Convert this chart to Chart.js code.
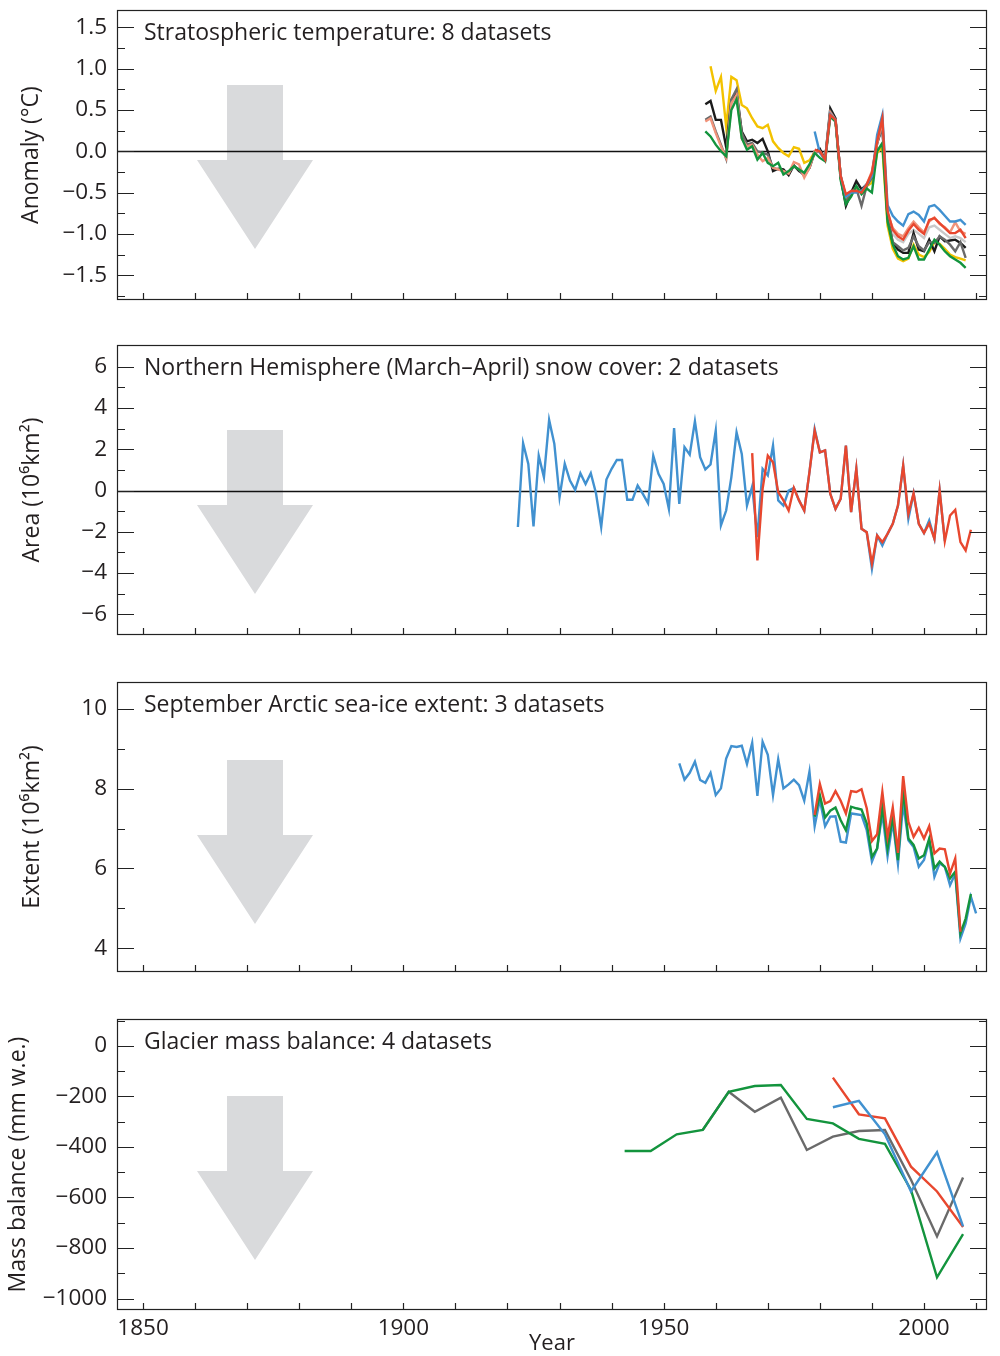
<!DOCTYPE html>
<html>
<head>
<meta charset="utf-8">
<script src="https://cdn.jsdelivr.net/npm/chart.js@4.4.1/dist/chart.umd.min.js"></script>
<style>
  body { margin: 0; background: #fff; }
  #wrap { position: relative; width: 1000px; height: 1356px; }
  canvas { position: absolute; left: 0; }
</style>
</head>
<body>
<div id="wrap">
  <canvas id="strat" width="1000" height="330" style="top:0px"></canvas>
  <canvas id="snow" width="1000" height="335" style="top:335px"></canvas>
  <canvas id="ice" width="1000" height="330" style="top:672px"></canvas>
  <canvas id="glacier" width="1000" height="347" style="top:1009px"></canvas>
</div>
<script>
/* --------------- Stratospheric temperature (anomaly, °C) --------------- */
const stratYears = [1958, 1959, 1960, 1961, 1962, 1963, 1964, 1965, 1966, 1967,
  1968, 1969, 1970, 1971, 1972, 1973, 1974, 1975, 1976, 1977,
  1978, 1979, 1980, 1981, 1982, 1983, 1984, 1985, 1986, 1987,
  1988, 1989, 1990, 1991, 1992, 1993, 1994, 1995, 1996, 1997,
  1998, 1999, 2000, 2001, 2002, 2003, 2004, 2005, 2006, 2007, 2008];
const stratBlack = [0.57, 0.61, 0.38, 0.38, 0.05, 0.62, 0.70, 0.24, 0.12, 0.14,
  0.10, 0.15, 0.00, -0.24, -0.21, -0.22, -0.29, -0.17, -0.24, -0.28,
  -0.20, 0.00, 0.03, -0.10, 0.52, 0.40, -0.32, -0.66, -0.50, -0.36,
  -0.46, -0.40, -0.30, 0.10, 0.30, -0.80, -1.11, -1.19, -1.23, -1.23,
  -0.99, -1.19, -1.21, -1.07, -1.21, -1.03, -1.09, -1.08, -1.07, -1.11, -1.17];
const stratYellow = [null, 1.03, 0.73, 0.90, 0.30, 0.90, 0.86, 0.56, 0.52, 0.40,
  0.30, 0.28, 0.32, 0.12, 0.04, -0.02, -0.06, 0.05, 0.03, -0.14,
  -0.11, -0.01, 0.00, -0.10, 0.45, 0.38, -0.32, -0.58, -0.52, -0.45,
  -0.50, -0.42, -0.38, -0.02, 0.05, -0.90, -1.18, -1.30, -1.33, -1.30,
  -1.13, -1.25, -1.28, -1.22, -1.10, -1.12, -1.18, -1.25, -1.28, -1.30, -1.32];
const stratGray = [0.38, 0.42, 0.24, 0.08, -0.09, 0.63, 0.75, 0.22, 0.08, 0.10,
  0.00, -0.02, -0.04, -0.20, -0.22, -0.24, -0.26, -0.18, -0.22, -0.30,
  -0.20, -0.02, 0.00, -0.10, 0.48, 0.38, -0.30, -0.62, -0.50, -0.45,
  -0.66, -0.42, -0.32, 0.10, 0.30, -0.80, -1.10, -1.15, -1.20, -1.17,
  -1.03, -1.15, -1.20, -1.10, -1.11, -1.03, -1.07, -1.13, -1.21, -1.10, -1.29];
const stratSalmon = [0.36, 0.40, 0.22, 0.06, -0.08, 0.58, 0.68, 0.15, 0.06, 0.08,
  -0.04, -0.12, -0.08, -0.20, -0.22, -0.24, -0.27, -0.13, -0.16, -0.32,
  -0.20, 0.00, 0.00, -0.10, 0.47, 0.38, -0.30, -0.55, -0.50, -0.44,
  -0.50, -0.40, -0.24, 0.10, 0.36, -0.75, -0.93, -1.00, -1.03, -0.93,
  -0.85, -0.92, -0.98, -0.85, -0.80, -0.88, -0.92, -0.98, -0.86, -0.97, -1.00];
const stratGreen = [0.24, 0.18, 0.08, 0.00, -0.06, 0.50, 0.63, 0.16, 0.02, 0.06,
  -0.10, -0.02, -0.14, -0.18, -0.14, -0.28, -0.24, -0.18, -0.22, -0.26,
  -0.16, -0.02, -0.08, -0.12, 0.42, 0.36, -0.35, -0.64, -0.55, -0.42,
  -0.52, -0.45, -0.50, 0.00, 0.10, -0.85, -1.13, -1.27, -1.31, -1.29,
  -1.15, -1.31, -1.31, -1.19, -1.07, -1.13, -1.21, -1.27, -1.31, -1.35, -1.41];
// satellite records start in 1979
const satYears = [1979, 1980, 1981, 1982, 1983, 1984, 1985, 1986, 1987,
  1988, 1989, 1990, 1991, 1992, 1993, 1994, 1995, 1996, 1997,
  1998, 1999, 2000, 2001, 2002, 2003, 2004, 2005, 2006, 2007, 2008];
const satBlue = [0.24, -0.02, -0.10, 0.45, 0.38, -0.30, -0.55, -0.50, -0.50,
  -0.48, -0.40, -0.30, 0.20, 0.44, -0.65, -0.78, -0.85, -0.90, -0.76,
  -0.73, -0.77, -0.85, -0.67, -0.65, -0.71, -0.78, -0.85, -0.85, -0.83, -0.89];
const satRed = [0.02, 0.00, -0.10, 0.44, 0.38, -0.30, -0.52, -0.48, -0.48,
  -0.50, -0.40, -0.26, 0.12, 0.40, -0.72, -0.95, -1.03, -1.07, -0.96,
  -0.88, -0.95, -1.00, -0.83, -0.81, -0.87, -0.93, -0.99, -0.99, -0.95, -1.05];
const satLightGray = [0.00, 0.00, -0.10, 0.46, 0.38, -0.30, -0.55, -0.50, -0.46,
  -0.50, -0.40, -0.30, 0.12, 0.35, -0.78, -1.00, -1.07, -1.10, -1.00,
  -0.95, -1.00, -1.05, -0.92, -0.90, -0.95, -1.00, -1.05, -1.03, -1.05, -1.10];

/* --------------- NH March-April snow cover (10^6 km2) --------------- */
const snowBlueYears = [1922, 1923, 1924, 1925, 1926, 1927, 1928, 1929, 1930, 1931,
  1932, 1933, 1934, 1935, 1936, 1937, 1938, 1939, 1940, 1941,
  1942, 1943, 1944, 1945, 1946, 1947, 1948, 1949, 1950, 1951,
  1952, 1953, 1954, 1955, 1956, 1957, 1958, 1959, 1960, 1961,
  1962, 1963, 1964, 1965, 1966, 1967, 1968, 1969, 1970, 1971,
  1972, 1973, 1974, 1975, 1976, 1977, 1978, 1979, 1980, 1981,
  1982, 1983, 1984, 1985, 1986, 1987, 1988, 1989, 1990, 1991,
  1992, 1993, 1994, 1995, 1996, 1997, 1998, 1999, 2000, 2001,
  2002, 2003, 2004];
const snowBlue = [-1.77, 2.29, 1.29, -1.74, 1.69, 0.65, 3.42, 2.26, -0.32, 1.29,
  0.48, 0.03, 0.84, 0.32, 0.84, -0.13, -1.77, 0.53, 1.05, 1.48,
  1.48, -0.45, -0.45, 0.24, -0.16, -0.61, 1.69, 0.81, 0.32, -0.89,
  3.03, -0.65, 2.10, 1.74, 3.35, 1.61, 1.02, 1.26, 2.90, -1.69,
  -0.97, 0.65, 2.82, 1.77, -0.73, 0.19, -2.26, 1.05, 0.73, 2.18,
  -0.48, -0.73, 0.00, 0.13, -0.48, -0.97, 0.89, 2.98, 1.85, 1.94,
  -0.16, -0.89, -0.40, 2.18, -1.05, 1.05, -1.85, -2.02, -3.79, -2.18,
  -2.66, -2.10, -1.61, -0.73, 1.21, -1.37, -0.13, -1.61, -2.06, -1.45,
  -2.34, 0.00, -2.45];
const snowRedYears = [1967, 1968, 1969, 1970, 1971, 1972, 1973, 1974, 1975, 1976,
  1977, 1978, 1979, 1980, 1981, 1982, 1983, 1984, 1985, 1986,
  1987, 1988, 1989, 1990, 1991, 1992, 1993, 1994, 1995, 1996,
  1997, 1998, 1999, 2000, 2001, 2002, 2003, 2004, 2005, 2006,
  2007, 2008, 2009];
const snowRed = [1.81, -3.39, 0.08, 1.69, 1.37, -0.08, -0.48, -0.97, 0.13, -0.48,
  -0.97, 0.89, 2.90, 1.85, 1.94, -0.16, -0.89, -0.40, 2.18, -1.05,
  1.05, -1.85, -2.02, -3.55, -2.18, -2.50, -2.10, -1.61, -0.73, 1.21,
  -1.13, -0.13, -1.61, -2.06, -1.60, -2.34, 0.00, -2.45, -1.21, -0.94,
  -2.50, -2.90, -1.90];

/* --------------- September Arctic sea-ice extent (10^6 km2) --------------- */
const iceBlueYears = [1953, 1954, 1955, 1956, 1957, 1958, 1959, 1960, 1961, 1962,
  1963, 1964, 1965, 1966, 1967, 1968, 1969, 1970, 1971, 1972,
  1973, 1974, 1975, 1976, 1977, 1978, 1979, 1980, 1981, 1982,
  1983, 1984, 1985, 1986, 1987, 1988, 1989, 1990, 1991, 1992,
  1993, 1994, 1995, 1996, 1997, 1998, 1999, 2000, 2001, 2002,
  2003, 2004, 2005, 2006, 2007, 2008, 2009, 2010];
const iceBlue = [8.64, 8.23, 8.40, 8.68, 8.22, 8.15, 8.40, 7.84, 8.01, 8.76,
  9.07, 9.05, 9.08, 8.62, 9.15, 7.82, 9.18, 8.85, 7.84, 8.74,
  8.01, 8.11, 8.23, 8.09, 7.70, 8.43, 7.06, 7.73, 7.06, 7.30,
  7.31, 6.67, 6.65, 7.38, 7.36, 7.34, 6.96, 6.17, 6.50, 7.38,
  6.31, 7.17, 6.11, 7.63, 6.71, 6.54, 6.04, 6.21, 6.71, 5.79,
  6.13, 6.04, 5.58, 5.87, 4.24, 4.62, 5.29, 4.87];
const iceRedYears = [1979, 1980, 1981, 1982, 1983, 1984, 1985, 1986, 1987, 1988,
  1989, 1990, 1991, 1992, 1993, 1994, 1995, 1996, 1997, 1998,
  1999, 2000, 2001, 2002, 2003, 2004, 2005, 2006, 2007];
const iceRed = [7.34, 8.12, 7.63, 7.69, 7.94, 7.70, 7.38, 7.94, 7.92, 7.99,
  7.51, 6.69, 6.86, 7.92, 6.79, 7.53, 6.39, 8.32, 7.17, 6.79,
  7.02, 6.75, 7.06, 6.38, 6.50, 6.48, 5.87, 6.25, 4.41];
const iceGreenYears = [1979, 1980, 1981, 1982, 1983, 1984, 1985, 1986, 1987, 1988,
  1989, 1990, 1991, 1992, 1993, 1994, 1995, 1996, 1997, 1998,
  1999, 2000, 2001, 2002, 2003, 2004, 2005, 2006, 2007, 2008, 2009];
const iceGreen = [7.30, 7.84, 7.28, 7.45, 7.53, 7.21, 6.96, 7.55, 7.51, 7.48,
  7.13, 6.29, 6.50, 7.55, 6.50, 7.30, 6.21, 7.97, 6.75, 6.59,
  6.25, 6.33, 6.75, 6.00, 6.17, 6.04, 5.75, 5.92, 4.37, 4.74, 5.36];

/* --------------- Glacier mass balance (mm w.e., pentads) --------------- */
const glacGreenYears = [1942.5, 1947.5, 1952.5, 1957.5, 1962.5, 1967.5, 1972.5,
  1977.5, 1982.5, 1987.5, 1992.5, 1997.5, 2002.5, 2007.5];
const glacGreen = [-416, -416, -350, -333, -182, -159, -155, -289, -307, -368, -388, -570, -916, -745];
const glacGrayYears = [1957.5, 1962.5, 1967.5, 1972.5, 1977.5, 1982.5, 1987.5, 1992.5, 1997.5, 2002.5, 2007.5];
const glacGray = [-333, -182, -261, -205, -412, -359, -337, -333, -530, -754, -521];
const glacRedYears = [1982.5, 1987.5, 1992.5, 1997.5, 2002.5, 2007.5];
const glacRed = [-126, -271, -287, -478, -576, -717];
const glacBlueYears = [1982.5, 1987.5, 1992.5, 1997.5, 2002.5, 2007.5];
const glacBlue = [-243, -218, -350, -576, -421, -714];

/* --------------- Axis ticks --------------- */
const yearTicks = [1850, 1900, 1950, 2000];
const stratTicks = [-1.5, -1.0, -0.5, 0.0, 0.5, 1.0, 1.5];
const snowTicks = [-6, -4, -2, 0, 2, 4, 6];
const iceTicks = [4, 6, 8, 10];
const glacTicks = [-1000, -800, -600, -400, -200, 0];

/* --------------- Colours --------------- */
const C = {
  black: "#1b1b1b",
  yellow: "#f3c200",
  gray: "#6a6a6a",
  salmon: "#f1937a",
  red: "#e8472e",
  green: "#13943d",
  blue: "#4191d0",
  lightGray: "#c9c9c9",
};
const FONT = "'Open Sans', Lato, sans-serif";

const pts = (xs, ys) => xs.map((x, i) => ({ x: x, y: ys[i] }));
const line = (xs, ys, color) => ({
  data: pts(xs, ys),
  borderColor: color,
  borderWidth: 2.4,
  pointRadius: 0,
  tension: 0,
  fill: false,
});
const fmt = (d) => (v) => (v < 0 ? "\u2212" + Math.abs(v).toFixed(d) : v.toFixed(d));

/* --------------- Frame, inward ticks, arrow, panel text --------------- */
const panelDecor = {
  id: "panelDecor",
  beforeDatasetsDraw(chart, args, o) {
    const { ctx, chartArea: a, scales } = chart;
    ctx.save();
    // grey "decrease" arrow
    const cx = a.left + 138;
    const t = a.top + o.arrowTop;
    ctx.fillStyle = "#d9dadc";
    ctx.beginPath();
    ctx.moveTo(cx - 28, t);
    ctx.lineTo(cx + 28, t);
    ctx.lineTo(cx + 28, t + 75);
    ctx.lineTo(cx + 58, t + 75);
    ctx.lineTo(cx, t + 164);
    ctx.lineTo(cx - 58, t + 75);
    ctx.lineTo(cx - 28, t + 75);
    ctx.closePath();
    ctx.fill();
    if (o.zeroLine) {
      const y0 = Math.round(scales.y.getPixelForValue(0)) + 0.5;
      ctx.strokeStyle = "#111";
      ctx.lineWidth = 1.3;
      ctx.beginPath();
      ctx.moveTo(a.left, y0);
      ctx.lineTo(a.right, y0);
      ctx.stroke();
    }
    ctx.restore();
  },
  afterDraw(chart, args, o) {
    const { ctx, chartArea: a, scales } = chart;
    const x = scales.x, y = scales.y;
    ctx.save();
    ctx.strokeStyle = "#222";
    ctx.lineWidth = 1.2;
    ctx.strokeRect(a.left + 0.5, a.top + 0.5, a.right - a.left - 1, a.bottom - a.top - 1);
    ctx.beginPath();
    // y ticks, both sides
    for (let v = o.yMin; v <= o.yMax + 1e-9; v += o.minorStep) {
      const py = Math.round(y.getPixelForValue(v)) + 0.5;
      if (py < a.top + 2 || py > a.bottom - 2) continue;
      const major = o.majorTicks.some((m) => Math.abs(m - v) < 1e-6);
      const len = major ? 17 : 8;
      ctx.moveTo(a.left, py);
      ctx.lineTo(a.left + len, py);
      ctx.moveTo(a.right, py);
      ctx.lineTo(a.right - len, py);
    }
    // x ticks every 10 years, bottom edge
    for (let yr = 1850; yr <= 2010; yr += 10) {
      const px = Math.round(x.getPixelForValue(yr)) + 0.5;
      ctx.moveTo(px, a.bottom);
      ctx.lineTo(px, a.bottom - 7);
    }
    ctx.stroke();
    // panel title
    ctx.fillStyle = "#231f20";
    ctx.font = "23px " + FONT;
    ctx.textBaseline = "middle";
    ctx.textAlign = "left";
    ctx.fillText(o.label, a.left + 27, a.top + 23);
    ctx.restore();
  },
};

function makePanel(id, cfg) {
  const showYears = !!cfg.showYears;
  return new Chart(document.getElementById(id), {
    type: "line",
    plugins: [panelDecor],
    data: { datasets: cfg.datasets },
    options: {
      responsive: false,
      animation: false,
      devicePixelRatio: 1,
      layout: { padding: { top: 10, right: 13, bottom: cfg.padBottom, left: 0 } },
      plugins: {
        legend: { display: false },
        tooltip: { enabled: false },
        panelDecor: {
          label: cfg.label,
          arrowTop: cfg.arrowTop,
          zeroLine: cfg.zeroLine,
          majorTicks: cfg.ticks,
          minorStep: cfg.minorStep,
          yMin: cfg.tickFrom,
          yMax: cfg.tickTo,
        },
      },
      scales: {
        x: {
          type: "linear",
          min: 1845,
          max: 2012.1,
          grid: { display: false, drawTicks: false },
          border: { display: false },
          afterBuildTicks: (s) => { s.ticks = yearTicks.map((v) => ({ value: v })); },
          afterFit: (s) => {
            s.height = showYears ? 46 : 0;
            s.paddingLeft = 0;
            s.paddingRight = 0;
          },
          ticks: {
            display: showYears,
            autoSkip: false,
            maxRotation: 0,
            padding: 5,
            color: "#231f20",
            font: { family: FONT, size: 22.5 },
            callback: (v) => String(v),
          },
          title: {
            display: showYears,
            text: "Year",
            color: "#231f20",
            font: { family: FONT, size: 22, lineHeight: 1.15 },
            padding: { top: 0, bottom: 0 },
          },
        },
        y: {
          type: "linear",
          min: cfg.yMin,
          max: cfg.yMax,
          grid: { display: false, drawTicks: false },
          border: { display: false },
          afterBuildTicks: (s) => { s.ticks = cfg.ticks.map((v) => ({ value: v })); },
          afterFit: (s) => {
            s.width = 117;
            s.paddingTop = 0;
            s.paddingBottom = 0;
          },
          ticks: {
            padding: 10,
            color: "#231f20",
            font: { family: FONT, size: 22.5 },
            callback: fmt(cfg.decimals),
          },
          title: {
            display: true,
            text: cfg.yTitle,
            color: "#231f20",
            font: { family: FONT, size: 23, lineHeight: 1.2 },
            padding: { top: cfg.titlePad, bottom: 0 },
          },
        },
      },
    },
  });
}

makePanel("strat", {
  label: "Stratospheric temperature: 8 datasets",
  yTitle: "Anomaly (\u00B0C)",
  yMin: -1.8, yMax: 1.71, ticks: stratTicks, decimals: 1,
  minorStep: 0.25, tickFrom: -1.75, tickTo: 1.5,
  arrowTop: 75, zeroLine: true, padBottom: 30, titlePad: 18,
  datasets: [
    line(satYears, satRed, C.red),
    line(satYears, satBlue, C.blue),
    line(stratYears, stratGreen, C.green),
    line(stratYears, stratSalmon, C.salmon),
    line(stratYears, stratGray, C.gray),
    line(stratYears, stratBlack, C.black),
    line(stratYears, stratYellow, C.yellow),
    line(satYears, satLightGray, C.lightGray),
  ],
});

makePanel("snow", {
  label: "Northern Hemisphere (March\u2013April) snow cover: 2 datasets",
  yTitle: "Area (10\u2076km\u00B2)",
  yMin: -7, yMax: 7.05, ticks: snowTicks, decimals: 0,
  minorStep: 1, tickFrom: -7, tickTo: 7,
  arrowTop: 85, zeroLine: true, padBottom: 35, titlePad: 19,
  datasets: [
    line(snowRedYears, snowRed, C.red),
    line(snowBlueYears, snowBlue, C.blue),
  ],
});

makePanel("ice", {
  label: "September Arctic sea-ice extent: 3 datasets",
  yTitle: "Extent (10\u2076km\u00B2)",
  yMin: 3.4, yMax: 10.68, ticks: iceTicks, decimals: 0,
  minorStep: 1, tickFrom: 4, tickTo: 10,
  arrowTop: 78, zeroLine: false, padBottom: 30, titlePad: 19,
  datasets: [
    line(iceRedYears, iceRed, C.red),
    line(iceGreenYears, iceGreen, C.green),
    line(iceBlueYears, iceBlue, C.blue),
  ],
});

makePanel("glacier", {
  label: "Glacier mass balance: 4 datasets",
  yTitle: "Mass balance (mm w.e.)",
  yMin: -1045, yMax: 106, ticks: glacTicks, decimals: 0,
  minorStep: 100, tickFrom: -1000, tickTo: 100,
  arrowTop: 77, zeroLine: false, padBottom: 0, titlePad: 5, showYears: true,
  datasets: [
    line(glacBlueYears, glacBlue, C.blue),
    line(glacRedYears, glacRed, C.red),
    line(glacGreenYears, glacGreen, C.green),
    line(glacGrayYears, glacGray, C.gray),
  ],
});
</script>
</body>
</html>
